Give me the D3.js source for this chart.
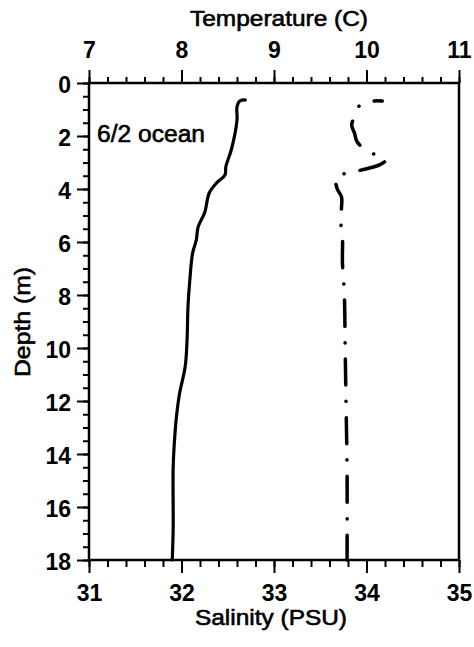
<!DOCTYPE html>
<html>
<head>
<meta charset="utf-8">
<script src="https://cdn.jsdelivr.net/npm/d3@7"></script>
<style>
  body { margin: 0; background: #fff; }
  text { font-family: "Liberation Sans", Arial, Helvetica, sans-serif; fill: #000; }
</style>
</head>
<body>
<script>
var width = 474;
var height = 647;

// temperature profile (solid line)
var tempDepth = [0.64, 0.68, 0.9, 1.4, 2.5, 3.15, 3.47, 3.77, 4.15, 4.9, 5.43, 5.92, 6.42, 7.43, 8.45, 9.7, 10.7, 11.7, 12.45, 13.2, 14.5, 16.8, 18];
var tempValues = [8.69, 8.63, 8.6, 8.6, 8.54, 8.48, 8.47, 8.38, 8.3, 8.25, 8.18, 8.16, 8.12, 8.09, 8.07, 8.06, 8.04, 7.98, 7.95, 7.93, 7.91, 7.91, 7.9];

// salinity profile (dash-dot line)
var salDepth = [0.68, 0.68, 0.87, 1.28, 1.58, 1.89, 2.23, 2.6, 2.79, 2.91, 3.09, 3.28, 3.4, 3.55, 3.96, 4.3, 4.68, 5.17, 5.81, 6.79, 7.92, 10.15, 12.34, 14.6, 18];
var salValues = [34.17, 34.08, 33.92, 33.87, 33.84, 33.87, 33.9, 34.03, 34.16, 34.21, 34.14, 33.95, 33.79, 33.67, 33.68, 33.73, 33.73, 33.72, 33.74, 33.74, 33.76, 33.77, 33.78, 33.79, 33.79];

var tempTicks = [7, 8, 9, 10, 11];
var salTicks = [31, 32, 33, 34, 35];
var depthTicks = [0, 2, 4, 6, 8, 10, 12, 14, 16, 18];

var plotLeft = 89, plotRight = 459, plotTop = 83, plotBottom = 560;

var svg = d3.select("body").append("svg").attr("width", width).attr("height", height);

var xT = d3.scaleLinear().domain([7, 11]).range([plotLeft, plotRight]);
var xS = d3.scaleLinear().domain([31, 35]).range([plotLeft, plotRight]);
var y = d3.scaleLinear().domain([0, 18]).range([plotTop, plotBottom]);

// minor ticks first
svg.append("g").attr("transform", "translate(0," + plotTop + ")")
  .call(d3.axisTop(xT).tickValues(d3.range(7, 11.01, 0.2)).tickSize(6).tickFormat(""));
svg.append("g").attr("transform", "translate(0," + plotBottom + ")")
  .call(d3.axisBottom(xS).tickValues(d3.range(31, 35.01, 0.2)).tickSize(7).tickFormat(""));
svg.append("g").attr("transform", "translate(" + plotLeft + ",0)")
  .call(d3.axisLeft(y).tickValues(d3.range(0, 18.01, 0.5)).tickSize(6).tickFormat(""));

// major ticks with labels
var topAxis = svg.append("g").attr("class", "major").attr("transform", "translate(0," + plotTop + ")")
  .call(d3.axisTop(xT).tickValues(tempTicks).tickSize(13).tickPadding(12).tickFormat(d3.format("d")));
var botAxis = svg.append("g").attr("class", "major").attr("transform", "translate(0," + plotBottom + ")")
  .call(d3.axisBottom(xS).tickValues(salTicks).tickSize(13).tickPadding(12).tickFormat(d3.format("d")));
var leftAxis = svg.append("g").attr("class", "major").attr("transform", "translate(" + plotLeft + ",0)")
  .call(d3.axisLeft(y).tickValues(depthTicks).tickSize(12).tickPadding(6).tickFormat(d3.format("d")));

svg.selectAll(".domain").remove();
svg.selectAll(".tick line").attr("stroke", "#000").attr("stroke-width", 2);
svg.selectAll(".major").attr("font-size", 23).attr("font-family", null);
svg.selectAll(".major text")
  .style("font-size", "23px").style("font-weight", "bold")
  .attr("fill", "#000");
leftAxis.selectAll("text").attr("dy", "0.4em");

// plot frame
svg.append("rect")
  .attr("x", plotLeft).attr("y", plotTop)
  .attr("width", plotRight - plotLeft).attr("height", plotBottom - plotTop)
  .attr("fill", "none").attr("stroke", "#000").attr("stroke-width", 2.5);

// profiles
var tempLine = d3.line()
  .x(function(d, i) { return xT(tempValues[i]); })
  .y(function(d) { return y(d); })
  .curve(d3.curveCatmullRom);

svg.append("path")
  .attr("d", tempLine(tempDepth))
  .attr("fill", "none").attr("stroke", "#000")
  .attr("stroke-width", 3.2).attr("stroke-linecap", "round").attr("stroke-linejoin", "round");

var salLine = d3.line()
  .x(function(d, i) { return xS(salValues[i]); })
  .y(function(d) { return y(d); })
  .curve(d3.curveCatmullRom);

svg.append("path")
  .attr("d", salLine(salDepth))
  .attr("fill", "none").attr("stroke", "#000")
  .attr("stroke-width", 3.5).attr("stroke-linecap", "round")
  .attr("stroke-dasharray", "26,16.3,0.1,16.3")
  .attr("stroke-dashoffset", 18);

// titles
function title(sel) {
  return sel.style("font-size", "22px")
    .attr("stroke", "#000").attr("stroke-width", 0.6);
}

svg.append("text")
  .attr("x", 279).attr("y", 26)
  .attr("text-anchor", "middle")
  .attr("textLength", 178).attr("lengthAdjust", "spacingAndGlyphs")
  .call(title)
  .text("Temperature (C)");

svg.append("text")
  .attr("x", 271).attr("y", 625)
  .attr("text-anchor", "middle")
  .attr("textLength", 152).attr("lengthAdjust", "spacingAndGlyphs")
  .call(title)
  .text("Salinity (PSU)");

svg.append("text")
  .attr("transform", "translate(30,322) rotate(-90)")
  .attr("text-anchor", "middle")
  .attr("textLength", 110).attr("lengthAdjust", "spacingAndGlyphs")
  .call(title)
  .text("Depth (m)");

svg.append("text")
  .attr("x", 97).attr("y", 142)
  .attr("textLength", 108).attr("lengthAdjust", "spacingAndGlyphs")
  .call(title)
  .style("font-size", "23px")
  .text("6/2 ocean");
</script>
</body>
</html>
